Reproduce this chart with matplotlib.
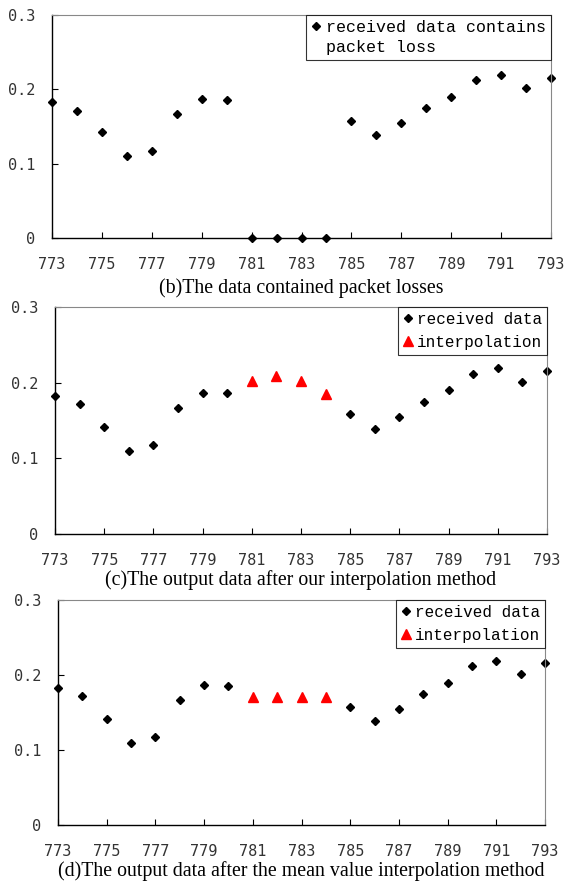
import numpy as np
import matplotlib
matplotlib.use("Agg")
import matplotlib.pyplot as plt
from matplotlib.lines import Line2D

# sample index
x_idx = np.arange(773, 794)

# received data (781-784 lost -> 0)
lost_data = [0.183, 0.1715, 0.142, 0.110, 0.117, 0.167, 0.187, 0.186,
             0.0, 0.0, 0.0, 0.0,
             0.158, 0.139, 0.1545, 0.175, 0.190, 0.212, 0.219, 0.2015, 0.2155]

# missing positions
gap_idx = [781, 782, 783, 784]
our_interp = [0.202, 0.2085, 0.202, 0.185]
mean_interp = [0.171, 0.171, 0.171, 0.171]

captions = ["(b)The data contained packet losses",
            "(c)The output data after our interpolation method",
            "(d)The output data after the mean value interpolation method"]

y_ticks = [0, 0.1, 0.2, 0.3]
y_ticklabels = ["0", "0.1", "0.2", "0.3"]
x_ticks = list(range(773, 794, 2))

mono = "DejaVu Sans Mono"
legfont = "Liberation Mono"
serif = "Liberation Serif"

fig = plt.figure(figsize=(5.65, 8.81), dpi=100)
W, H = 565, 881

# axes boxes in pixels: left, top, right, bottom
boxes = [(52, 15, 551, 238), (55, 307, 547, 534), (58, 600, 545, 825)]
caption_y = [288, 580, 871]


def setup_axes(ax):
    ax.set_xlim(773, 793)
    ax.set_ylim(0, 0.3)
    ax.set_xticks(x_ticks)
    ax.set_xticklabels([str(t) for t in x_ticks], fontfamily=mono, fontsize=11, color="#333333")
    ax.set_yticks(y_ticks)
    ax.set_yticklabels(y_ticklabels, fontfamily=mono, fontsize=11, color="#333333")
    ax.tick_params(direction="in", length=4, width=0.8)
    ax.tick_params(axis="x", pad=14)
    ax.tick_params(axis="y", pad=12)
    ax.spines["top"].set_color("#888888")
    ax.spines["right"].set_color("#888888")
    for s in ["left", "bottom"]:
        ax.spines[s].set_color("black")
        ax.spines[s].set_linewidth(1.0)


received_idx = [x for x in x_idx if x not in gap_idx]
received_val = [v for x, v in zip(x_idx, lost_data) if x not in gap_idx]

for i, (l, t, r, b) in enumerate(boxes):
    ax = fig.add_axes([l / W, 1 - b / H, (r - l) / W, (b - t) / H])
    if i == 0:
        h1, = ax.plot(x_idx, lost_data, linestyle="none", marker="D", markersize=4.5,
                      color="black", clip_on=False)
        blank = Line2D([], [], linestyle="none")
        handles = [h1, blank]
        labels = ["received data contains", "packet loss"]
        lspace = 0.3
        fsize = 12
    else:
        interp = our_interp if i == 1 else mean_interp
        h1, = ax.plot(received_idx, received_val, linestyle="none", marker="D", markersize=4.5,
                      color="black", clip_on=False)
        h2, = ax.plot(gap_idx, interp, linestyle="none", marker="^", markersize=6.5,
                      color="red", clip_on=False)
        handles = [h1, h2]
        labels = ["received data", "interpolation"]
        lspace = 0.5
        fsize = 11.5
    setup_axes(ax)
    leg = ax.legend(handles, labels, loc="upper right", bbox_to_anchor=(1.0, 1.0),
                    frameon=True, fancybox=False, prop={"family": legfont, "size": fsize},
                    handlelength=0.6, handletextpad=0.3, borderpad=0.3,
                    labelspacing=lspace, borderaxespad=0.0)
    leg.get_frame().set_edgecolor("black")
    leg.get_frame().set_linewidth(0.8)
    fig.text(0.5 * (l + r) / W, 1 - caption_y[i] / H, captions[i],
             ha="center", va="center", fontfamily=serif, fontsize=14.3)

fig.savefig("out.png", dpi=100)
